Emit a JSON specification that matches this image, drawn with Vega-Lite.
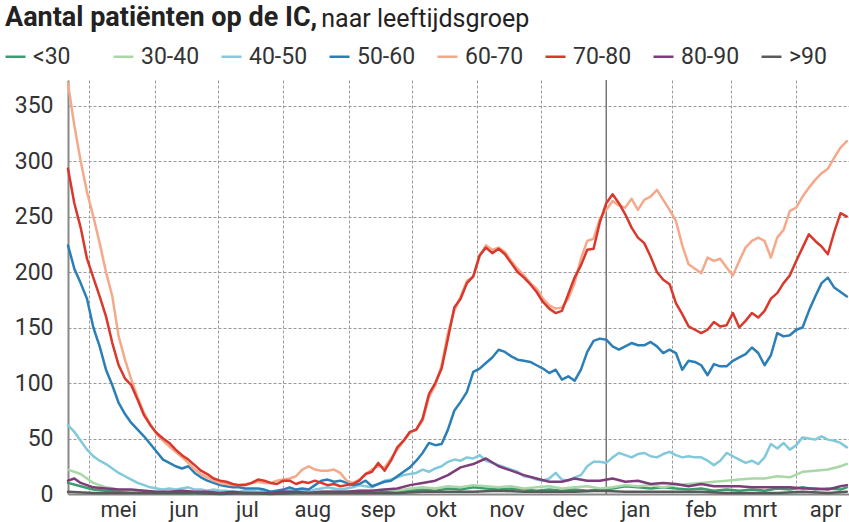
{
"$schema":"https://vega.github.io/schema/vega-lite/v6.json",
"width":781,"height":414,
"autosize":{"type":"none"},
"padding":{"left":68,"top":80,"right":0,"bottom":28},
"background":"white",
"config":{"view":{"stroke":null},"font":"Roboto"},
"title":{"text":"Aantal patiënten op de IC,","subtitle":"\u200b\u00a0\u00a0\u00a0\u00a0\u00a0\u00a0\u00a0\u00a0\u00a0\u00a0\u00a0\u00a0\u00a0\u00a0\u00a0\u00a0\u00a0\u00a0\u00a0\u00a0\u00a0\u00a0\u00a0\u00a0\u00a0\u00a0\u00a0\u00a0\u00a0\u00a0\u00a0\u00a0\u00a0\u00a0\u00a0\u00a0\u00a0\u00a0\u00a0\u00a0\u00a0\u00a0\u00a0\u00a0\u00a0\u00a0\u00a0\u00a0\u00a0\u00a0\u00a0naar leeftijdsgroep","anchor":"start","frame":"group","dx":-63,"offset":12,"font":"Roboto","fontSize":27,"fontWeight":"bold","color":"#222","subtitleFont":"Roboto","subtitleFontSize":25,"subtitleFontWeight":"normal","subtitleColor":"#222","subtitlePadding":-25},
"datasets":{
"jaar":[{"date":"2021-01-01"}],
"ic":[
{"date":"2020-04-21","group":"<30","n":10},{"date":"2020-04-27","group":"<30","n":7},{"date":"2020-05-03","group":"<30","n":4},{"date":"2020-05-09","group":"<30","n":3},{"date":"2020-05-15","group":"<30","n":3},{"date":"2020-05-21","group":"<30","n":2},{"date":"2020-05-27","group":"<30","n":2},{"date":"2020-06-02","group":"<30","n":1},{"date":"2020-06-08","group":"<30","n":1},{"date":"2020-06-14","group":"<30","n":1},{"date":"2020-06-20","group":"<30","n":1},{"date":"2020-06-26","group":"<30","n":1},{"date":"2020-07-02","group":"<30","n":1},{"date":"2020-07-08","group":"<30","n":1},{"date":"2020-07-14","group":"<30","n":1},{"date":"2020-07-20","group":"<30","n":1},{"date":"2020-07-26","group":"<30","n":1},{"date":"2020-08-01","group":"<30","n":1},{"date":"2020-08-07","group":"<30","n":2},{"date":"2020-08-13","group":"<30","n":2},{"date":"2020-08-19","group":"<30","n":1},{"date":"2020-08-25","group":"<30","n":2},{"date":"2020-08-31","group":"<30","n":2},{"date":"2020-09-06","group":"<30","n":2},{"date":"2020-09-12","group":"<30","n":2},{"date":"2020-09-18","group":"<30","n":3},{"date":"2020-09-24","group":"<30","n":2},{"date":"2020-09-30","group":"<30","n":3},{"date":"2020-10-06","group":"<30","n":4},{"date":"2020-10-12","group":"<30","n":3},{"date":"2020-10-18","group":"<30","n":5},{"date":"2020-10-24","group":"<30","n":4},{"date":"2020-10-30","group":"<30","n":6},{"date":"2020-11-05","group":"<30","n":5},{"date":"2020-11-11","group":"<30","n":4},{"date":"2020-11-17","group":"<30","n":5},{"date":"2020-11-23","group":"<30","n":4},{"date":"2020-11-29","group":"<30","n":3},{"date":"2020-12-05","group":"<30","n":4},{"date":"2020-12-11","group":"<30","n":3},{"date":"2020-12-17","group":"<30","n":4},{"date":"2020-12-23","group":"<30","n":3},{"date":"2020-12-29","group":"<30","n":4},{"date":"2021-01-04","group":"<30","n":5},{"date":"2021-01-10","group":"<30","n":7},{"date":"2021-01-16","group":"<30","n":6},{"date":"2021-01-22","group":"<30","n":5},{"date":"2021-01-28","group":"<30","n":6},{"date":"2021-02-03","group":"<30","n":5},{"date":"2021-02-09","group":"<30","n":4},{"date":"2021-02-15","group":"<30","n":5},{"date":"2021-02-21","group":"<30","n":3},{"date":"2021-02-27","group":"<30","n":4},{"date":"2021-03-05","group":"<30","n":3},{"date":"2021-03-11","group":"<30","n":4},{"date":"2021-03-17","group":"<30","n":3},{"date":"2021-03-23","group":"<30","n":5},{"date":"2021-03-29","group":"<30","n":4},{"date":"2021-04-04","group":"<30","n":6},{"date":"2021-04-10","group":"<30","n":4},{"date":"2021-04-16","group":"<30","n":5},{"date":"2021-04-22","group":"<30","n":4},{"date":"2021-04-25","group":"<30","n":6},
{"date":"2020-04-21","group":"30-40","n":22},{"date":"2020-04-27","group":"30-40","n":18},{"date":"2020-05-03","group":"30-40","n":10},{"date":"2020-05-09","group":"30-40","n":6},{"date":"2020-05-15","group":"30-40","n":4},{"date":"2020-05-21","group":"30-40","n":3},{"date":"2020-05-27","group":"30-40","n":3},{"date":"2020-06-02","group":"30-40","n":2},{"date":"2020-06-08","group":"30-40","n":2},{"date":"2020-06-14","group":"30-40","n":2},{"date":"2020-06-20","group":"30-40","n":1},{"date":"2020-06-26","group":"30-40","n":2},{"date":"2020-07-02","group":"30-40","n":1},{"date":"2020-07-08","group":"30-40","n":1},{"date":"2020-07-14","group":"30-40","n":2},{"date":"2020-07-20","group":"30-40","n":1},{"date":"2020-07-26","group":"30-40","n":1},{"date":"2020-08-01","group":"30-40","n":2},{"date":"2020-08-07","group":"30-40","n":1},{"date":"2020-08-13","group":"30-40","n":2},{"date":"2020-08-19","group":"30-40","n":2},{"date":"2020-08-25","group":"30-40","n":3},{"date":"2020-08-31","group":"30-40","n":2},{"date":"2020-09-06","group":"30-40","n":3},{"date":"2020-09-12","group":"30-40","n":3},{"date":"2020-09-18","group":"30-40","n":4},{"date":"2020-09-24","group":"30-40","n":3},{"date":"2020-09-30","group":"30-40","n":5},{"date":"2020-10-06","group":"30-40","n":6},{"date":"2020-10-12","group":"30-40","n":5},{"date":"2020-10-18","group":"30-40","n":7},{"date":"2020-10-24","group":"30-40","n":6},{"date":"2020-10-30","group":"30-40","n":8},{"date":"2020-11-05","group":"30-40","n":7},{"date":"2020-11-11","group":"30-40","n":6},{"date":"2020-11-17","group":"30-40","n":7},{"date":"2020-11-23","group":"30-40","n":5},{"date":"2020-11-29","group":"30-40","n":6},{"date":"2020-12-05","group":"30-40","n":7},{"date":"2020-12-11","group":"30-40","n":5},{"date":"2020-12-17","group":"30-40","n":6},{"date":"2020-12-23","group":"30-40","n":7},{"date":"2020-12-29","group":"30-40","n":5},{"date":"2021-01-04","group":"30-40","n":6},{"date":"2021-01-10","group":"30-40","n":8},{"date":"2021-01-16","group":"30-40","n":7},{"date":"2021-01-22","group":"30-40","n":8},{"date":"2021-01-28","group":"30-40","n":6},{"date":"2021-02-03","group":"30-40","n":8},{"date":"2021-02-09","group":"30-40","n":9},{"date":"2021-02-15","group":"30-40","n":10},{"date":"2021-02-21","group":"30-40","n":11},{"date":"2021-02-27","group":"30-40","n":12},{"date":"2021-03-05","group":"30-40","n":13},{"date":"2021-03-11","group":"30-40","n":14},{"date":"2021-03-17","group":"30-40","n":14},{"date":"2021-03-23","group":"30-40","n":16},{"date":"2021-03-29","group":"30-40","n":15},{"date":"2021-04-04","group":"30-40","n":20},{"date":"2021-04-10","group":"30-40","n":21},{"date":"2021-04-16","group":"30-40","n":22},{"date":"2021-04-22","group":"30-40","n":25},{"date":"2021-04-25","group":"30-40","n":27},
{"date":"2020-04-21","group":"40-50","n":62},{"date":"2020-04-24","group":"40-50","n":56},{"date":"2020-04-27","group":"40-50","n":48},{"date":"2020-04-30","group":"40-50","n":40},{"date":"2020-05-03","group":"40-50","n":34},{"date":"2020-05-06","group":"40-50","n":30},{"date":"2020-05-09","group":"40-50","n":27},{"date":"2020-05-12","group":"40-50","n":23},{"date":"2020-05-15","group":"40-50","n":19},{"date":"2020-05-18","group":"40-50","n":16},{"date":"2020-05-21","group":"40-50","n":13},{"date":"2020-05-24","group":"40-50","n":10},{"date":"2020-05-27","group":"40-50","n":8},{"date":"2020-05-30","group":"40-50","n":6},{"date":"2020-06-02","group":"40-50","n":5},{"date":"2020-06-05","group":"40-50","n":4},{"date":"2020-06-08","group":"40-50","n":5},{"date":"2020-06-11","group":"40-50","n":4},{"date":"2020-06-14","group":"40-50","n":5},{"date":"2020-06-17","group":"40-50","n":6},{"date":"2020-06-20","group":"40-50","n":4},{"date":"2020-06-23","group":"40-50","n":4},{"date":"2020-06-26","group":"40-50","n":3},{"date":"2020-06-29","group":"40-50","n":4},{"date":"2020-07-02","group":"40-50","n":3},{"date":"2020-07-05","group":"40-50","n":3},{"date":"2020-07-08","group":"40-50","n":2},{"date":"2020-07-11","group":"40-50","n":2},{"date":"2020-07-14","group":"40-50","n":3},{"date":"2020-07-17","group":"40-50","n":3},{"date":"2020-07-20","group":"40-50","n":2},{"date":"2020-07-23","group":"40-50","n":3},{"date":"2020-07-26","group":"40-50","n":2},{"date":"2020-07-29","group":"40-50","n":3},{"date":"2020-08-01","group":"40-50","n":2},{"date":"2020-08-04","group":"40-50","n":4},{"date":"2020-08-07","group":"40-50","n":3},{"date":"2020-08-10","group":"40-50","n":3},{"date":"2020-08-13","group":"40-50","n":2},{"date":"2020-08-16","group":"40-50","n":4},{"date":"2020-08-19","group":"40-50","n":5},{"date":"2020-08-22","group":"40-50","n":6},{"date":"2020-08-25","group":"40-50","n":5},{"date":"2020-08-28","group":"40-50","n":4},{"date":"2020-08-31","group":"40-50","n":5},{"date":"2020-09-03","group":"40-50","n":6},{"date":"2020-09-06","group":"40-50","n":8},{"date":"2020-09-09","group":"40-50","n":7},{"date":"2020-09-12","group":"40-50","n":6},{"date":"2020-09-15","group":"40-50","n":9},{"date":"2020-09-18","group":"40-50","n":12},{"date":"2020-09-21","group":"40-50","n":13},{"date":"2020-09-24","group":"40-50","n":15},{"date":"2020-09-27","group":"40-50","n":17},{"date":"2020-09-30","group":"40-50","n":18},{"date":"2020-10-03","group":"40-50","n":19},{"date":"2020-10-06","group":"40-50","n":22},{"date":"2020-10-09","group":"40-50","n":20},{"date":"2020-10-12","group":"40-50","n":23},{"date":"2020-10-15","group":"40-50","n":25},{"date":"2020-10-18","group":"40-50","n":29},{"date":"2020-10-21","group":"40-50","n":31},{"date":"2020-10-24","group":"40-50","n":30},{"date":"2020-10-27","group":"40-50","n":33},{"date":"2020-10-30","group":"40-50","n":32},{"date":"2020-11-02","group":"40-50","n":35},{"date":"2020-11-05","group":"40-50","n":30},{"date":"2020-11-08","group":"40-50","n":28},{"date":"2020-11-11","group":"40-50","n":26},{"date":"2020-11-14","group":"40-50","n":24},{"date":"2020-11-17","group":"40-50","n":22},{"date":"2020-11-20","group":"40-50","n":20},{"date":"2020-11-23","group":"40-50","n":16},{"date":"2020-11-26","group":"40-50","n":15},{"date":"2020-11-29","group":"40-50","n":13},{"date":"2020-12-02","group":"40-50","n":12},{"date":"2020-12-05","group":"40-50","n":14},{"date":"2020-12-08","group":"40-50","n":19},{"date":"2020-12-11","group":"40-50","n":13},{"date":"2020-12-14","group":"40-50","n":12},{"date":"2020-12-17","group":"40-50","n":15},{"date":"2020-12-20","group":"40-50","n":17},{"date":"2020-12-23","group":"40-50","n":25},{"date":"2020-12-26","group":"40-50","n":29},{"date":"2020-12-29","group":"40-50","n":29},{"date":"2021-01-01","group":"40-50","n":28},{"date":"2021-01-04","group":"40-50","n":33},{"date":"2021-01-07","group":"40-50","n":37},{"date":"2021-01-10","group":"40-50","n":35},{"date":"2021-01-13","group":"40-50","n":33},{"date":"2021-01-16","group":"40-50","n":36},{"date":"2021-01-19","group":"40-50","n":37},{"date":"2021-01-22","group":"40-50","n":34},{"date":"2021-01-25","group":"40-50","n":33},{"date":"2021-01-28","group":"40-50","n":36},{"date":"2021-01-31","group":"40-50","n":38},{"date":"2021-02-03","group":"40-50","n":35},{"date":"2021-02-06","group":"40-50","n":33},{"date":"2021-02-09","group":"40-50","n":34},{"date":"2021-02-12","group":"40-50","n":33},{"date":"2021-02-15","group":"40-50","n":33},{"date":"2021-02-18","group":"40-50","n":30},{"date":"2021-02-21","group":"40-50","n":26},{"date":"2021-02-24","group":"40-50","n":30},{"date":"2021-02-27","group":"40-50","n":37},{"date":"2021-03-02","group":"40-50","n":34},{"date":"2021-03-05","group":"40-50","n":31},{"date":"2021-03-08","group":"40-50","n":28},{"date":"2021-03-11","group":"40-50","n":30},{"date":"2021-03-14","group":"40-50","n":27},{"date":"2021-03-17","group":"40-50","n":33},{"date":"2021-03-20","group":"40-50","n":45},{"date":"2021-03-23","group":"40-50","n":41},{"date":"2021-03-26","group":"40-50","n":46},{"date":"2021-03-29","group":"40-50","n":40},{"date":"2021-04-01","group":"40-50","n":44},{"date":"2021-04-04","group":"40-50","n":51},{"date":"2021-04-07","group":"40-50","n":50},{"date":"2021-04-10","group":"40-50","n":49},{"date":"2021-04-13","group":"40-50","n":52},{"date":"2021-04-16","group":"40-50","n":49},{"date":"2021-04-19","group":"40-50","n":48},{"date":"2021-04-22","group":"40-50","n":46},{"date":"2021-04-25","group":"40-50","n":42},
{"date":"2020-04-21","group":"50-60","n":224},{"date":"2020-04-24","group":"50-60","n":203},{"date":"2020-04-27","group":"50-60","n":190},{"date":"2020-04-30","group":"50-60","n":176},{"date":"2020-05-03","group":"50-60","n":150},{"date":"2020-05-06","group":"50-60","n":133},{"date":"2020-05-09","group":"50-60","n":112},{"date":"2020-05-12","group":"50-60","n":98},{"date":"2020-05-15","group":"50-60","n":82},{"date":"2020-05-18","group":"50-60","n":72},{"date":"2020-05-21","group":"50-60","n":64},{"date":"2020-05-24","group":"50-60","n":58},{"date":"2020-05-27","group":"50-60","n":52},{"date":"2020-05-30","group":"50-60","n":45},{"date":"2020-06-02","group":"50-60","n":38},{"date":"2020-06-05","group":"50-60","n":31},{"date":"2020-06-08","group":"50-60","n":28},{"date":"2020-06-11","group":"50-60","n":25},{"date":"2020-06-14","group":"50-60","n":23},{"date":"2020-06-17","group":"50-60","n":25},{"date":"2020-06-20","group":"50-60","n":19},{"date":"2020-06-23","group":"50-60","n":15},{"date":"2020-06-26","group":"50-60","n":12},{"date":"2020-06-29","group":"50-60","n":10},{"date":"2020-07-02","group":"50-60","n":8},{"date":"2020-07-05","group":"50-60","n":7},{"date":"2020-07-08","group":"50-60","n":6},{"date":"2020-07-11","group":"50-60","n":6},{"date":"2020-07-14","group":"50-60","n":5},{"date":"2020-07-17","group":"50-60","n":5},{"date":"2020-07-20","group":"50-60","n":5},{"date":"2020-07-23","group":"50-60","n":4},{"date":"2020-07-26","group":"50-60","n":2},{"date":"2020-07-29","group":"50-60","n":3},{"date":"2020-08-01","group":"50-60","n":4},{"date":"2020-08-04","group":"50-60","n":6},{"date":"2020-08-07","group":"50-60","n":4},{"date":"2020-08-10","group":"50-60","n":5},{"date":"2020-08-13","group":"50-60","n":4},{"date":"2020-08-16","group":"50-60","n":8},{"date":"2020-08-19","group":"50-60","n":12},{"date":"2020-08-22","group":"50-60","n":13},{"date":"2020-08-25","group":"50-60","n":11},{"date":"2020-08-28","group":"50-60","n":12},{"date":"2020-08-31","group":"50-60","n":10},{"date":"2020-09-03","group":"50-60","n":8},{"date":"2020-09-06","group":"50-60","n":9},{"date":"2020-09-09","group":"50-60","n":12},{"date":"2020-09-12","group":"50-60","n":7},{"date":"2020-09-15","group":"50-60","n":9},{"date":"2020-09-18","group":"50-60","n":11},{"date":"2020-09-21","group":"50-60","n":12},{"date":"2020-09-24","group":"50-60","n":16},{"date":"2020-09-27","group":"50-60","n":20},{"date":"2020-09-30","group":"50-60","n":24},{"date":"2020-10-03","group":"50-60","n":30},{"date":"2020-10-06","group":"50-60","n":37},{"date":"2020-10-09","group":"50-60","n":46},{"date":"2020-10-12","group":"50-60","n":44},{"date":"2020-10-15","group":"50-60","n":45},{"date":"2020-10-18","group":"50-60","n":58},{"date":"2020-10-21","group":"50-60","n":75},{"date":"2020-10-24","group":"50-60","n":83},{"date":"2020-10-27","group":"50-60","n":92},{"date":"2020-10-30","group":"50-60","n":110},{"date":"2020-11-02","group":"50-60","n":113},{"date":"2020-11-05","group":"50-60","n":118},{"date":"2020-11-08","group":"50-60","n":123},{"date":"2020-11-11","group":"50-60","n":130},{"date":"2020-11-14","group":"50-60","n":128},{"date":"2020-11-17","group":"50-60","n":124},{"date":"2020-11-20","group":"50-60","n":121},{"date":"2020-11-23","group":"50-60","n":120},{"date":"2020-11-26","group":"50-60","n":119},{"date":"2020-11-29","group":"50-60","n":116},{"date":"2020-12-02","group":"50-60","n":113},{"date":"2020-12-05","group":"50-60","n":109},{"date":"2020-12-08","group":"50-60","n":112},{"date":"2020-12-11","group":"50-60","n":103},{"date":"2020-12-14","group":"50-60","n":106},{"date":"2020-12-17","group":"50-60","n":102},{"date":"2020-12-20","group":"50-60","n":112},{"date":"2020-12-23","group":"50-60","n":128},{"date":"2020-12-26","group":"50-60","n":138},{"date":"2020-12-29","group":"50-60","n":140},{"date":"2021-01-01","group":"50-60","n":139},{"date":"2021-01-04","group":"50-60","n":133},{"date":"2021-01-07","group":"50-60","n":130},{"date":"2021-01-10","group":"50-60","n":133},{"date":"2021-01-13","group":"50-60","n":136},{"date":"2021-01-16","group":"50-60","n":134},{"date":"2021-01-19","group":"50-60","n":134},{"date":"2021-01-22","group":"50-60","n":137},{"date":"2021-01-25","group":"50-60","n":133},{"date":"2021-01-28","group":"50-60","n":127},{"date":"2021-01-31","group":"50-60","n":130},{"date":"2021-02-03","group":"50-60","n":127},{"date":"2021-02-06","group":"50-60","n":112},{"date":"2021-02-09","group":"50-60","n":120},{"date":"2021-02-12","group":"50-60","n":119},{"date":"2021-02-15","group":"50-60","n":116},{"date":"2021-02-18","group":"50-60","n":107},{"date":"2021-02-21","group":"50-60","n":117},{"date":"2021-02-24","group":"50-60","n":115},{"date":"2021-02-27","group":"50-60","n":115},{"date":"2021-03-02","group":"50-60","n":120},{"date":"2021-03-05","group":"50-60","n":123},{"date":"2021-03-08","group":"50-60","n":126},{"date":"2021-03-11","group":"50-60","n":132},{"date":"2021-03-14","group":"50-60","n":127},{"date":"2021-03-17","group":"50-60","n":116},{"date":"2021-03-20","group":"50-60","n":125},{"date":"2021-03-23","group":"50-60","n":145},{"date":"2021-03-26","group":"50-60","n":142},{"date":"2021-03-29","group":"50-60","n":143},{"date":"2021-04-01","group":"50-60","n":148},{"date":"2021-04-04","group":"50-60","n":150},{"date":"2021-04-07","group":"50-60","n":165},{"date":"2021-04-10","group":"50-60","n":178},{"date":"2021-04-13","group":"50-60","n":190},{"date":"2021-04-16","group":"50-60","n":195},{"date":"2021-04-19","group":"50-60","n":186},{"date":"2021-04-22","group":"50-60","n":182},{"date":"2021-04-25","group":"50-60","n":178},
{"date":"2020-04-21","group":"60-70","n":370},{"date":"2020-04-24","group":"60-70","n":332},{"date":"2020-04-27","group":"60-70","n":300},{"date":"2020-04-30","group":"60-70","n":272},{"date":"2020-05-03","group":"60-70","n":250},{"date":"2020-05-06","group":"60-70","n":226},{"date":"2020-05-09","group":"60-70","n":200},{"date":"2020-05-12","group":"60-70","n":178},{"date":"2020-05-15","group":"60-70","n":142},{"date":"2020-05-18","group":"60-70","n":121},{"date":"2020-05-21","group":"60-70","n":103},{"date":"2020-05-24","group":"60-70","n":87},{"date":"2020-05-27","group":"60-70","n":73},{"date":"2020-05-30","group":"60-70","n":63},{"date":"2020-06-02","group":"60-70","n":54},{"date":"2020-06-05","group":"60-70","n":48},{"date":"2020-06-08","group":"60-70","n":43},{"date":"2020-06-11","group":"60-70","n":38},{"date":"2020-06-14","group":"60-70","n":33},{"date":"2020-06-17","group":"60-70","n":28},{"date":"2020-06-20","group":"60-70","n":22},{"date":"2020-06-23","group":"60-70","n":18},{"date":"2020-06-26","group":"60-70","n":15},{"date":"2020-06-29","group":"60-70","n":12},{"date":"2020-07-02","group":"60-70","n":10},{"date":"2020-07-05","group":"60-70","n":9},{"date":"2020-07-08","group":"60-70","n":8},{"date":"2020-07-11","group":"60-70","n":8},{"date":"2020-07-14","group":"60-70","n":9},{"date":"2020-07-17","group":"60-70","n":10},{"date":"2020-07-20","group":"60-70","n":11},{"date":"2020-07-23","group":"60-70","n":10},{"date":"2020-07-26","group":"60-70","n":10},{"date":"2020-07-29","group":"60-70","n":12},{"date":"2020-08-01","group":"60-70","n":13},{"date":"2020-08-04","group":"60-70","n":14},{"date":"2020-08-07","group":"60-70","n":16},{"date":"2020-08-10","group":"60-70","n":22},{"date":"2020-08-13","group":"60-70","n":25},{"date":"2020-08-16","group":"60-70","n":22},{"date":"2020-08-19","group":"60-70","n":21},{"date":"2020-08-22","group":"60-70","n":21},{"date":"2020-08-25","group":"60-70","n":22},{"date":"2020-08-28","group":"60-70","n":19},{"date":"2020-08-31","group":"60-70","n":12},{"date":"2020-09-03","group":"60-70","n":10},{"date":"2020-09-06","group":"60-70","n":13},{"date":"2020-09-09","group":"60-70","n":18},{"date":"2020-09-12","group":"60-70","n":22},{"date":"2020-09-15","group":"60-70","n":25},{"date":"2020-09-18","group":"60-70","n":24},{"date":"2020-09-21","group":"60-70","n":32},{"date":"2020-09-24","group":"60-70","n":40},{"date":"2020-09-27","group":"60-70","n":48},{"date":"2020-09-30","group":"60-70","n":55},{"date":"2020-10-03","group":"60-70","n":58},{"date":"2020-10-06","group":"60-70","n":66},{"date":"2020-10-09","group":"60-70","n":87},{"date":"2020-10-12","group":"60-70","n":98},{"date":"2020-10-15","group":"60-70","n":116},{"date":"2020-10-18","group":"60-70","n":145},{"date":"2020-10-21","group":"60-70","n":165},{"date":"2020-10-24","group":"60-70","n":178},{"date":"2020-10-27","group":"60-70","n":192},{"date":"2020-10-30","group":"60-70","n":196},{"date":"2020-11-02","group":"60-70","n":214},{"date":"2020-11-05","group":"60-70","n":224},{"date":"2020-11-08","group":"60-70","n":220},{"date":"2020-11-11","group":"60-70","n":222},{"date":"2020-11-14","group":"60-70","n":218},{"date":"2020-11-17","group":"60-70","n":210},{"date":"2020-11-20","group":"60-70","n":203},{"date":"2020-11-23","group":"60-70","n":197},{"date":"2020-11-26","group":"60-70","n":190},{"date":"2020-11-29","group":"60-70","n":185},{"date":"2020-12-02","group":"60-70","n":176},{"date":"2020-12-05","group":"60-70","n":170},{"date":"2020-12-08","group":"60-70","n":167},{"date":"2020-12-11","group":"60-70","n":168},{"date":"2020-12-14","group":"60-70","n":176},{"date":"2020-12-17","group":"60-70","n":190},{"date":"2020-12-20","group":"60-70","n":212},{"date":"2020-12-23","group":"60-70","n":228},{"date":"2020-12-26","group":"60-70","n":230},{"date":"2020-12-29","group":"60-70","n":248},{"date":"2021-01-01","group":"60-70","n":256},{"date":"2021-01-04","group":"60-70","n":264},{"date":"2021-01-07","group":"60-70","n":260},{"date":"2021-01-10","group":"60-70","n":258},{"date":"2021-01-13","group":"60-70","n":266},{"date":"2021-01-16","group":"60-70","n":256},{"date":"2021-01-19","group":"60-70","n":265},{"date":"2021-01-22","group":"60-70","n":268},{"date":"2021-01-25","group":"60-70","n":274},{"date":"2021-01-28","group":"60-70","n":265},{"date":"2021-01-31","group":"60-70","n":256},{"date":"2021-02-03","group":"60-70","n":246},{"date":"2021-02-06","group":"60-70","n":224},{"date":"2021-02-09","group":"60-70","n":207},{"date":"2021-02-12","group":"60-70","n":203},{"date":"2021-02-15","group":"60-70","n":199},{"date":"2021-02-18","group":"60-70","n":213},{"date":"2021-02-21","group":"60-70","n":210},{"date":"2021-02-24","group":"60-70","n":212},{"date":"2021-02-27","group":"60-70","n":204},{"date":"2021-03-02","group":"60-70","n":197},{"date":"2021-03-05","group":"60-70","n":210},{"date":"2021-03-08","group":"60-70","n":222},{"date":"2021-03-11","group":"60-70","n":228},{"date":"2021-03-14","group":"60-70","n":231},{"date":"2021-03-17","group":"60-70","n":228},{"date":"2021-03-20","group":"60-70","n":213},{"date":"2021-03-23","group":"60-70","n":231},{"date":"2021-03-26","group":"60-70","n":238},{"date":"2021-03-29","group":"60-70","n":255},{"date":"2021-04-01","group":"60-70","n":258},{"date":"2021-04-04","group":"60-70","n":268},{"date":"2021-04-07","group":"60-70","n":276},{"date":"2021-04-10","group":"60-70","n":283},{"date":"2021-04-13","group":"60-70","n":289},{"date":"2021-04-16","group":"60-70","n":293},{"date":"2021-04-19","group":"60-70","n":303},{"date":"2021-04-22","group":"60-70","n":312},{"date":"2021-04-25","group":"60-70","n":318},
{"date":"2020-04-21","group":"70-80","n":293},{"date":"2020-04-24","group":"70-80","n":262},{"date":"2020-04-27","group":"70-80","n":240},{"date":"2020-04-30","group":"70-80","n":212},{"date":"2020-05-03","group":"70-80","n":195},{"date":"2020-05-06","group":"70-80","n":178},{"date":"2020-05-09","group":"70-80","n":160},{"date":"2020-05-12","group":"70-80","n":136},{"date":"2020-05-15","group":"70-80","n":116},{"date":"2020-05-18","group":"70-80","n":104},{"date":"2020-05-21","group":"70-80","n":98},{"date":"2020-05-24","group":"70-80","n":85},{"date":"2020-05-27","group":"70-80","n":71},{"date":"2020-05-30","group":"70-80","n":62},{"date":"2020-06-02","group":"70-80","n":55},{"date":"2020-06-05","group":"70-80","n":50},{"date":"2020-06-08","group":"70-80","n":46},{"date":"2020-06-11","group":"70-80","n":40},{"date":"2020-06-14","group":"70-80","n":35},{"date":"2020-06-17","group":"70-80","n":31},{"date":"2020-06-20","group":"70-80","n":26},{"date":"2020-06-23","group":"70-80","n":21},{"date":"2020-06-26","group":"70-80","n":18},{"date":"2020-06-29","group":"70-80","n":14},{"date":"2020-07-02","group":"70-80","n":12},{"date":"2020-07-05","group":"70-80","n":11},{"date":"2020-07-08","group":"70-80","n":9},{"date":"2020-07-11","group":"70-80","n":8},{"date":"2020-07-14","group":"70-80","n":8},{"date":"2020-07-17","group":"70-80","n":10},{"date":"2020-07-20","group":"70-80","n":13},{"date":"2020-07-23","group":"70-80","n":12},{"date":"2020-07-26","group":"70-80","n":10},{"date":"2020-07-29","group":"70-80","n":9},{"date":"2020-08-01","group":"70-80","n":12},{"date":"2020-08-04","group":"70-80","n":12},{"date":"2020-08-07","group":"70-80","n":9},{"date":"2020-08-10","group":"70-80","n":11},{"date":"2020-08-13","group":"70-80","n":10},{"date":"2020-08-16","group":"70-80","n":12},{"date":"2020-08-19","group":"70-80","n":10},{"date":"2020-08-22","group":"70-80","n":8},{"date":"2020-08-25","group":"70-80","n":9},{"date":"2020-08-28","group":"70-80","n":7},{"date":"2020-08-31","group":"70-80","n":8},{"date":"2020-09-03","group":"70-80","n":9},{"date":"2020-09-06","group":"70-80","n":12},{"date":"2020-09-09","group":"70-80","n":18},{"date":"2020-09-12","group":"70-80","n":20},{"date":"2020-09-15","group":"70-80","n":28},{"date":"2020-09-18","group":"70-80","n":21},{"date":"2020-09-21","group":"70-80","n":30},{"date":"2020-09-24","group":"70-80","n":42},{"date":"2020-09-27","group":"70-80","n":48},{"date":"2020-09-30","group":"70-80","n":56},{"date":"2020-10-03","group":"70-80","n":58},{"date":"2020-10-06","group":"70-80","n":68},{"date":"2020-10-09","group":"70-80","n":90},{"date":"2020-10-12","group":"70-80","n":100},{"date":"2020-10-15","group":"70-80","n":113},{"date":"2020-10-18","group":"70-80","n":140},{"date":"2020-10-21","group":"70-80","n":168},{"date":"2020-10-24","group":"70-80","n":176},{"date":"2020-10-27","group":"70-80","n":190},{"date":"2020-10-30","group":"70-80","n":196},{"date":"2020-11-02","group":"70-80","n":215},{"date":"2020-11-05","group":"70-80","n":222},{"date":"2020-11-08","group":"70-80","n":217},{"date":"2020-11-11","group":"70-80","n":221},{"date":"2020-11-14","group":"70-80","n":216},{"date":"2020-11-17","group":"70-80","n":208},{"date":"2020-11-20","group":"70-80","n":200},{"date":"2020-11-23","group":"70-80","n":195},{"date":"2020-11-26","group":"70-80","n":189},{"date":"2020-11-29","group":"70-80","n":182},{"date":"2020-12-02","group":"70-80","n":173},{"date":"2020-12-05","group":"70-80","n":167},{"date":"2020-12-08","group":"70-80","n":163},{"date":"2020-12-11","group":"70-80","n":165},{"date":"2020-12-14","group":"70-80","n":180},{"date":"2020-12-17","group":"70-80","n":195},{"date":"2020-12-20","group":"70-80","n":206},{"date":"2020-12-23","group":"70-80","n":220},{"date":"2020-12-26","group":"70-80","n":221},{"date":"2020-12-29","group":"70-80","n":245},{"date":"2021-01-01","group":"70-80","n":262},{"date":"2021-01-04","group":"70-80","n":270},{"date":"2021-01-07","group":"70-80","n":262},{"date":"2021-01-10","group":"70-80","n":252},{"date":"2021-01-13","group":"70-80","n":240},{"date":"2021-01-16","group":"70-80","n":231},{"date":"2021-01-19","group":"70-80","n":226},{"date":"2021-01-22","group":"70-80","n":214},{"date":"2021-01-25","group":"70-80","n":200},{"date":"2021-01-28","group":"70-80","n":193},{"date":"2021-01-31","group":"70-80","n":189},{"date":"2021-02-03","group":"70-80","n":172},{"date":"2021-02-06","group":"70-80","n":162},{"date":"2021-02-09","group":"70-80","n":151},{"date":"2021-02-12","group":"70-80","n":148},{"date":"2021-02-15","group":"70-80","n":145},{"date":"2021-02-18","group":"70-80","n":148},{"date":"2021-02-21","group":"70-80","n":155},{"date":"2021-02-24","group":"70-80","n":151},{"date":"2021-02-27","group":"70-80","n":152},{"date":"2021-03-02","group":"70-80","n":163},{"date":"2021-03-05","group":"70-80","n":150},{"date":"2021-03-08","group":"70-80","n":156},{"date":"2021-03-11","group":"70-80","n":163},{"date":"2021-03-14","group":"70-80","n":159},{"date":"2021-03-17","group":"70-80","n":165},{"date":"2021-03-20","group":"70-80","n":176},{"date":"2021-03-23","group":"70-80","n":181},{"date":"2021-03-26","group":"70-80","n":190},{"date":"2021-03-29","group":"70-80","n":197},{"date":"2021-04-01","group":"70-80","n":210},{"date":"2021-04-04","group":"70-80","n":222},{"date":"2021-04-07","group":"70-80","n":234},{"date":"2021-04-10","group":"70-80","n":228},{"date":"2021-04-13","group":"70-80","n":223},{"date":"2021-04-16","group":"70-80","n":216},{"date":"2021-04-19","group":"70-80","n":236},{"date":"2021-04-22","group":"70-80","n":253},{"date":"2021-04-25","group":"70-80","n":250},
{"date":"2020-04-21","group":"80-90","n":12},{"date":"2020-04-24","group":"80-90","n":14},{"date":"2020-04-27","group":"80-90","n":10},{"date":"2020-05-03","group":"80-90","n":6},{"date":"2020-05-09","group":"80-90","n":5},{"date":"2020-05-15","group":"80-90","n":4},{"date":"2020-05-21","group":"80-90","n":4},{"date":"2020-05-27","group":"80-90","n":3},{"date":"2020-06-02","group":"80-90","n":2},{"date":"2020-06-08","group":"80-90","n":2},{"date":"2020-06-14","group":"80-90","n":3},{"date":"2020-06-20","group":"80-90","n":2},{"date":"2020-06-26","group":"80-90","n":2},{"date":"2020-07-02","group":"80-90","n":1},{"date":"2020-07-08","group":"80-90","n":2},{"date":"2020-07-14","group":"80-90","n":1},{"date":"2020-07-20","group":"80-90","n":1},{"date":"2020-07-26","group":"80-90","n":1},{"date":"2020-08-01","group":"80-90","n":2},{"date":"2020-08-07","group":"80-90","n":2},{"date":"2020-08-13","group":"80-90","n":1},{"date":"2020-08-19","group":"80-90","n":2},{"date":"2020-08-25","group":"80-90","n":2},{"date":"2020-08-31","group":"80-90","n":2},{"date":"2020-09-06","group":"80-90","n":3},{"date":"2020-09-12","group":"80-90","n":3},{"date":"2020-09-18","group":"80-90","n":4},{"date":"2020-09-24","group":"80-90","n":5},{"date":"2020-09-30","group":"80-90","n":8},{"date":"2020-10-06","group":"80-90","n":10},{"date":"2020-10-12","group":"80-90","n":12},{"date":"2020-10-18","group":"80-90","n":17},{"date":"2020-10-24","group":"80-90","n":24},{"date":"2020-10-30","group":"80-90","n":27},{"date":"2020-11-05","group":"80-90","n":32},{"date":"2020-11-11","group":"80-90","n":25},{"date":"2020-11-17","group":"80-90","n":21},{"date":"2020-11-23","group":"80-90","n":17},{"date":"2020-11-29","group":"80-90","n":14},{"date":"2020-12-05","group":"80-90","n":11},{"date":"2020-12-11","group":"80-90","n":11},{"date":"2020-12-17","group":"80-90","n":14},{"date":"2020-12-23","group":"80-90","n":12},{"date":"2020-12-29","group":"80-90","n":12},{"date":"2021-01-04","group":"80-90","n":14},{"date":"2021-01-10","group":"80-90","n":11},{"date":"2021-01-16","group":"80-90","n":12},{"date":"2021-01-22","group":"80-90","n":9},{"date":"2021-01-28","group":"80-90","n":10},{"date":"2021-02-03","group":"80-90","n":9},{"date":"2021-02-09","group":"80-90","n":7},{"date":"2021-02-15","group":"80-90","n":9},{"date":"2021-02-21","group":"80-90","n":7},{"date":"2021-02-27","group":"80-90","n":7},{"date":"2021-03-05","group":"80-90","n":7},{"date":"2021-03-11","group":"80-90","n":6},{"date":"2021-03-17","group":"80-90","n":6},{"date":"2021-03-23","group":"80-90","n":6},{"date":"2021-03-29","group":"80-90","n":6},{"date":"2021-04-04","group":"80-90","n":5},{"date":"2021-04-10","group":"80-90","n":5},{"date":"2021-04-16","group":"80-90","n":4},{"date":"2021-04-22","group":"80-90","n":7},{"date":"2021-04-25","group":"80-90","n":8},
{"date":"2020-04-21","group":">90","n":2},{"date":"2020-05-03","group":">90","n":1},{"date":"2020-05-15","group":">90","n":1},{"date":"2020-05-27","group":">90","n":1},{"date":"2020-06-08","group":">90","n":1},{"date":"2020-06-20","group":">90","n":1},{"date":"2020-07-02","group":">90","n":0},{"date":"2020-07-14","group":">90","n":1},{"date":"2020-07-26","group":">90","n":0},{"date":"2020-08-07","group":">90","n":1},{"date":"2020-08-19","group":">90","n":1},{"date":"2020-08-31","group":">90","n":1},{"date":"2020-09-12","group":">90","n":1},{"date":"2020-09-24","group":">90","n":1},{"date":"2020-10-06","group":">90","n":2},{"date":"2020-10-18","group":">90","n":2},{"date":"2020-10-30","group":">90","n":2},{"date":"2020-11-11","group":">90","n":3},{"date":"2020-11-23","group":">90","n":2},{"date":"2020-12-05","group":">90","n":2},{"date":"2020-12-17","group":">90","n":2},{"date":"2020-12-29","group":">90","n":3},{"date":"2021-01-10","group":">90","n":2},{"date":"2021-01-22","group":">90","n":2},{"date":"2021-02-03","group":">90","n":2},{"date":"2021-02-15","group":">90","n":2},{"date":"2021-02-27","group":">90","n":1},{"date":"2021-03-11","group":">90","n":1},{"date":"2021-03-23","group":">90","n":1},{"date":"2021-04-04","group":">90","n":2},{"date":"2021-04-16","group":">90","n":1},{"date":"2021-04-25","group":">90","n":2}
]},
"encoding":{
"x":{"field":"date","type":"temporal","scale":{"domain":[{"year":2020,"month":4,"date":21},{"year":2021,"month":4,"date":26}]},
"axis":{"title":null,"tickCount":{"interval":"month","step":1},"labelExpr":"['jan','feb','mrt','apr','mei','jun','jul','aug','sep','okt','nov','dec'][month(datum.value)]","labelOffset":29,"labelAlign":"center","labelBaseline":"top","labelFlush":false,"labelOverlap":false,"labelBound":false,"ticks":false,"grid":true,"gridDash":[3,2],"gridColor":"#9a9a9a","gridWidth":1,"domainColor":"#888","domainWidth":2,"labelFont":"Roboto","labelFontSize":22,"labelColor":"#333","labelPadding":5}}
},
"layer":[
{"data":{"name":"jaar"},"mark":{"type":"rule","color":"#777","strokeWidth":1.5}},
{"data":{"name":"ic"},"mark":{"type":"line","strokeWidth":2.5,"strokeJoin":"round","strokeCap":"round"},
"encoding":{
"y":{"field":"n","type":"quantitative","scale":{"domain":[0,373],"nice":false},"axis":{"title":null,"values":[0,50,100,150,200,250,300,350],"ticks":false,"grid":true,"gridDash":[3,2],"gridColor":"#9a9a9a","gridWidth":1,"domainColor":"#888","domainWidth":2,"labelFont":"Roboto","labelFontSize":23,"labelColor":"#333","labelPadding":15}},
"color":{"field":"group","type":"nominal","scale":{"domain":["<30","30-40","40-50","50-60","60-70","70-80","80-90",">90"],"range":["#3b9c6d","#a9d8a6","#82c9dc","#2b7fb6","#f5a98a","#d9382c","#7e3d7a","#5a5a5a"]},
"legend":{"title":null,"orient":"none","legendX":-64,"legendY":-35,"direction":"horizontal","columns":8,"gridAlign":"all","symbolType":"stroke","symbolSize":400,"symbolStrokeWidth":2.5,"labelFont":"Roboto","labelFontSize":23,"labelColor":"#333","labelOffset":6,"columnPadding":16,"padding":0}}
}}
]
}
